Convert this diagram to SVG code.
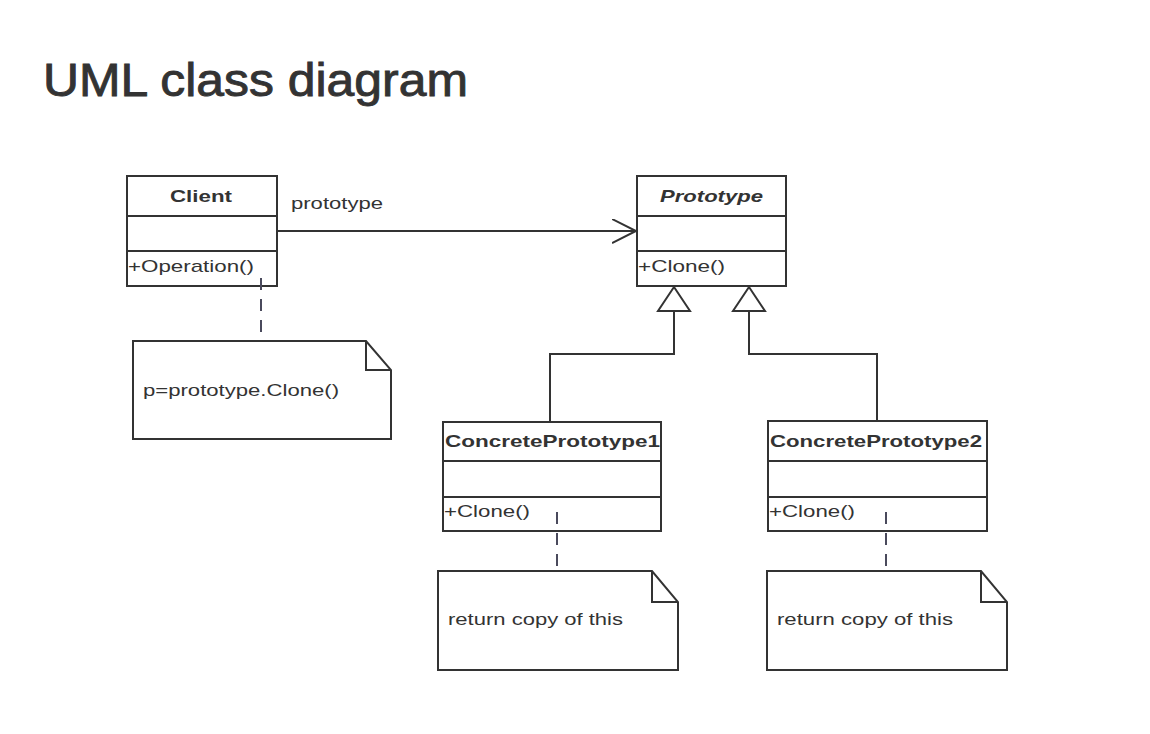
<svg xmlns="http://www.w3.org/2000/svg" width="1150" height="734" viewBox="0 0 1150 734">
<style>
.box{fill:#fff;stroke:#333;stroke-width:2}
.ln{fill:none;stroke:#333;stroke-width:2}
.dash{fill:none;stroke:#4a4a5c;stroke-width:2;stroke-dasharray:12 9}
.t{font-family:"Liberation Sans",Arial,sans-serif;font-size:17px;fill:#333}
.b{font-weight:bold}
.title{font-family:"Liberation Sans",Arial,sans-serif;font-size:46px;fill:#333;stroke:#333;stroke-width:0.9}
</style>
<defs>
<marker id="open" markerWidth="28" markerHeight="28" refX="24" refY="12" orient="auto" markerUnits="userSpaceOnUse">
<path d="M0,0 L24,12 L0,24" fill="none" stroke="#333" stroke-width="2"/>
</marker>
</defs>
<rect width="1150" height="734" fill="#fff"/>
<text class="title" x="43" y="96" textLength="425" lengthAdjust="spacingAndGlyphs">UML class diagram</text>

<g id="client">
<rect class="box" x="127" y="176" width="150" height="110"/>
<line class="ln" x1="127" y1="216" x2="277" y2="216"/>
<line class="ln" x1="127" y1="251" x2="277" y2="251"/>
<text class="t b" x="170" y="202" textLength="62" lengthAdjust="spacingAndGlyphs">Client</text>
<text class="t" x="128" y="272" textLength="126" lengthAdjust="spacingAndGlyphs">+Operation()</text>
</g>

<g id="prototype">
<rect class="box" x="637" y="176" width="149" height="110"/>
<line class="ln" x1="637" y1="216" x2="786" y2="216"/>
<line class="ln" x1="637" y1="251" x2="786" y2="251"/>
<text class="t b" x="660" y="202" font-style="italic" textLength="103" lengthAdjust="spacingAndGlyphs">Prototype</text>
<text class="t" x="638" y="272" textLength="87" lengthAdjust="spacingAndGlyphs">+Clone()</text>
</g>

<g id="concrete1">
<rect class="box" x="443" y="422" width="218" height="109"/>
<line class="ln" x1="443" y1="461" x2="661" y2="461"/>
<line class="ln" x1="443" y1="497" x2="661" y2="497"/>
<text class="t b" x="445" y="447" textLength="215" lengthAdjust="spacingAndGlyphs">ConcretePrototype1</text>
<text class="t" x="444" y="517" textLength="86" lengthAdjust="spacingAndGlyphs">+Clone()</text>
</g>

<g id="concrete2">
<rect class="box" x="768" y="421" width="219" height="110"/>
<line class="ln" x1="768" y1="461" x2="987" y2="461"/>
<line class="ln" x1="768" y1="497" x2="987" y2="497"/>
<text class="t b" x="770" y="447" textLength="212" lengthAdjust="spacingAndGlyphs">ConcretePrototype2</text>
<text class="t" x="769" y="517" textLength="86" lengthAdjust="spacingAndGlyphs">+Clone()</text>
</g>

<g id="note-client">
<path class="box" d="M133,341 L366,341 L391,370 L391,439 L133,439 Z"/>
<polyline class="ln" points="366,341 366,370 391,370"/>
<text class="t" x="143" y="396" textLength="196" lengthAdjust="spacingAndGlyphs">p=prototype.Clone()</text>
</g>

<g id="note-concrete1">
<path class="box" d="M438,571 L652,571 L678,602 L678,670 L438,670 Z"/>
<polyline class="ln" points="652,571 652,602 678,602"/>
<text class="t" x="448" y="625" textLength="175" lengthAdjust="spacingAndGlyphs">return copy of this</text>
</g>

<g id="note-concrete2">
<path class="box" d="M767,571 L981,571 L1007,602 L1007,670 L767,670 Z"/>
<polyline class="ln" points="981,571 981,602 1007,602"/>
<text class="t" x="777" y="625" textLength="176" lengthAdjust="spacingAndGlyphs">return copy of this</text>
</g>

<g id="connectors">
<line class="ln" x1="277" y1="231" x2="636" y2="231" marker-end="url(#open)"/>
<text class="t" x="291" y="209" textLength="92" lengthAdjust="spacingAndGlyphs">prototype</text>
<polyline class="ln" points="550,421 550,354 674,354 674,311"/>
<polygon class="box" points="674,287 658,311 690,311"/>
<polyline class="ln" points="877,421 877,354 749,354 749,311"/>
<polygon class="box" points="749,287 733,311 765,311"/>
<line class="dash" x1="261" y1="278" x2="261" y2="341"/>
<line class="dash" x1="557" y1="512" x2="557" y2="571"/>
<line class="dash" x1="886" y1="512" x2="886" y2="571"/>
</g>
</svg>
